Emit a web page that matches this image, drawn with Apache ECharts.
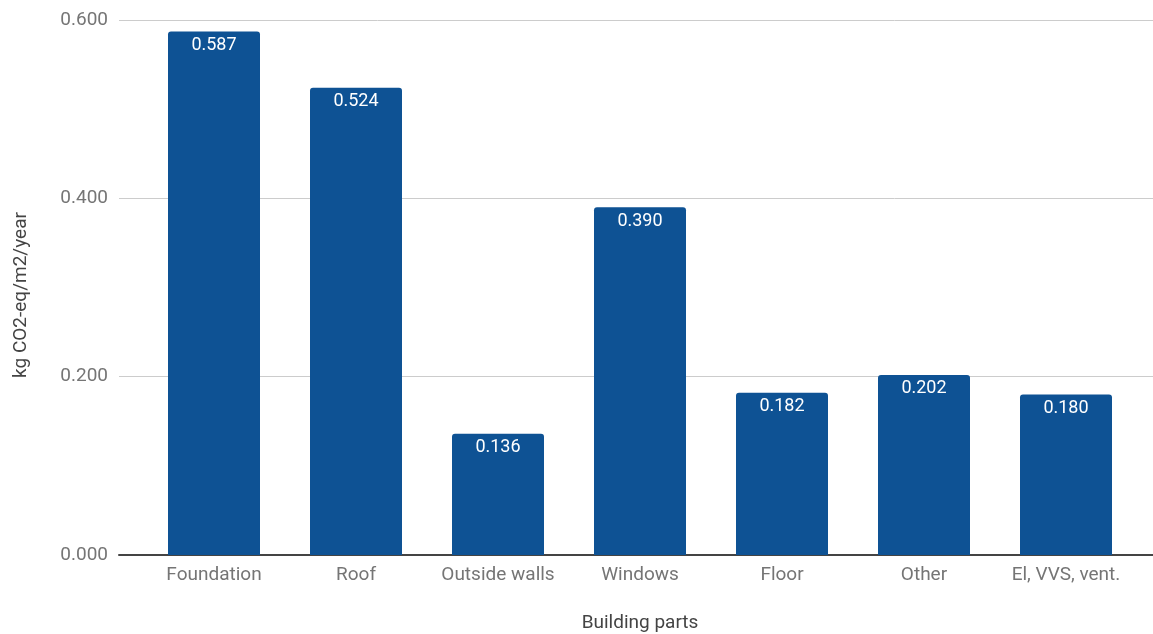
<!DOCTYPE html>
<html>
<head>
<meta charset="utf-8">
<script src="https://cdn.jsdelivr.net/npm/echarts@6/dist/echarts.min.js"></script>
<style>
  html, body { margin: 0; padding: 0; background: #fff; }
  #chart { width: 1153px; height: 634px; }
</style>
</head>
<body>
<div id="chart"></div>
<script>
// Embodied emissions per building part
const categories = ['Foundation', 'Roof', 'Outside walls', 'Windows', 'Floor', 'Other', 'El, VVS, vent.'];
const values = [0.587, 0.524, 0.136, 0.390, 0.182, 0.202, 0.180];
const yTicks = [0, 0.2, 0.4, 0.6];
const yTitle = 'kg CO2-eq/m2/year';
const xTitle = 'Building parts';

const FONT = 'Roboto, "Noto Sans", sans-serif';
const TOP = 20, BOTTOM = 79;

const chart = echarts.init(document.getElementById('chart'), null, { renderer: 'canvas' });

chart.setOption({
  animation: false,
  backgroundColor: '#ffffff',
  grid: [
    // full-width frame carrying gridlines, y labels and baseline
    { left: 119, right: 0, top: TOP, bottom: BOTTOM },
    // inner band holding the bars
    { left: 143, right: 16, top: TOP, bottom: BOTTOM }
  ],
  xAxis: [
    {
      gridIndex: 0, type: 'value', min: 0, max: 1,
      axisLine: { show: true, lineStyle: { color: '#444', width: 2 } },
      axisTick: { show: false }, axisLabel: { show: false }, splitLine: { show: false }
    },
    {
      gridIndex: 1, type: 'category', data: categories,
      axisLine: { show: false }, axisTick: { show: false },
      axisLabel: { interval: 0, hideOverlap: false, margin: 11, fontFamily: FONT, fontSize: 19, color: '#757575' }
    }
  ],
  yAxis: [
    {
      gridIndex: 0, type: 'value',
      min: yTicks[0], max: yTicks[yTicks.length - 1], interval: yTicks[1] - yTicks[0],
      axisLine: { show: false }, axisTick: { show: false },
      axisLabel: {
        margin: 11, fontFamily: FONT, fontSize: 19, color: '#757575',
        formatter: v => v.toFixed(3)
      },
      splitLine: {
        show: true,
        lineStyle: { color: '#cccccc', width: 1 },
        showMinLine: false
      }
    },
    {
      gridIndex: 1, type: 'value',
      min: yTicks[0], max: yTicks[yTicks.length - 1],
      show: false, splitLine: { show: false }
    }
  ],
  series: [
    {
      type: 'bar',
      xAxisIndex: 1, yAxisIndex: 1,
      data: values,
      barWidth: 92,
      itemStyle: { color: '#0e5294', borderRadius: [3, 3, 0, 0] },
      label: {
        show: true, position: 'insideTop', distance: 5,
        fontFamily: FONT, fontSize: 18, fontWeight: 'normal', color: '#ffffff',
        formatter: p => p.value.toFixed(3)
      },
      z: 3
    }
  ],
  graphic: [
    {
      type: 'text', x: 21, y: 295, rotation: Math.PI / 2,
      style: {
        text: yTitle, fontFamily: FONT, fontSize: 19, fill: '#444444',
        textAlign: 'center', textVerticalAlign: 'middle'
      }
    },
    {
      type: 'text', x: 640, y: 623,
      style: {
        text: xTitle, fontFamily: FONT, fontSize: 19, fill: '#444444',
        textAlign: 'center', textVerticalAlign: 'middle'
      }
    }
  ]
});
</script>
</body>
</html>
